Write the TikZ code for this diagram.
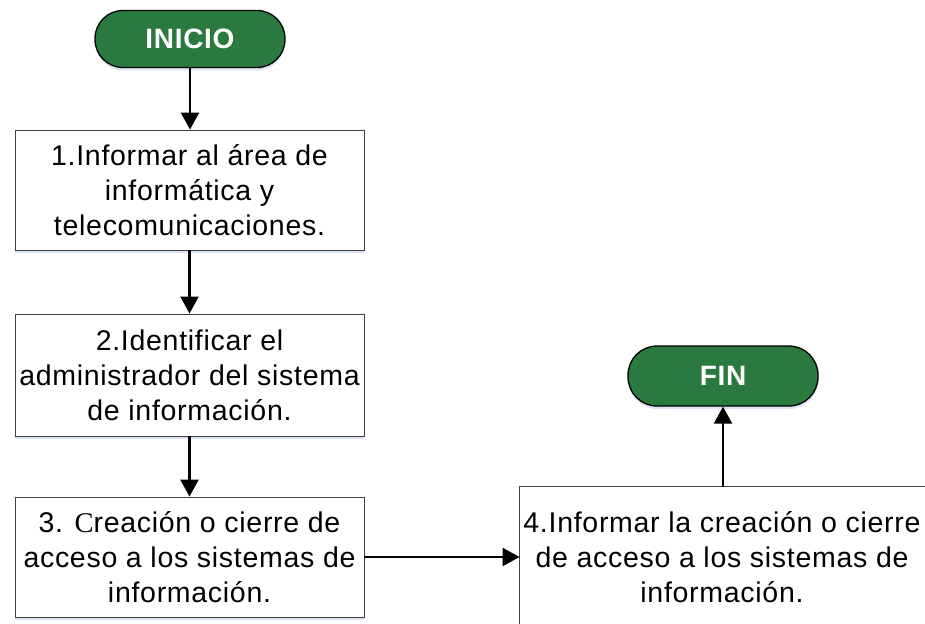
\documentclass[tikz,border=0pt]{standalone}
\usepackage{fontspec}
\setmainfont{Liberation Sans}[LetterSpace=2.5]
\newfontfamily\serifC{Liberation Serif}
\usetikzlibrary{arrows.meta,shadows,calc}
\definecolor{pillgreen}{HTML}{2A7A3F}
\definecolor{boxline}{HTML}{404040}
\definecolor{shadowblue}{RGB}{195,210,235}
\begin{document}
\begin{tikzpicture}[x=1pt,y=-1pt,
  pill/.style={draw=black, line width=1.3pt, fill=pillgreen, rounded corners=28pt,
    minimum width=190pt, minimum height=57pt, inner sep=0pt, text=white,
    font=\fontsize{28}{34}\selectfont\bfseries,
    drop shadow={shadow xshift=0pt, shadow yshift=-3pt, fill=shadowblue, opacity=0.6}},
  stepbox/.style={draw=boxline, line width=0.9pt, fill=white, minimum width=349pt,
    minimum height=120pt, inner sep=0pt, align=center,
    font=\fontsize{28.5}{35}\selectfont},
  boxshadow/.style={drop shadow={shadow xshift=0pt, shadow yshift=-3pt, fill=shadowblue, opacity=0.6}},
  flow/.style={line width=2.2pt, -{Triangle[length=17pt,width=18pt]}}]
\useasboundingbox (0,0) rectangle (925,623);
\node[pill] (inicio) at (190,39) {INICIO};
\node[stepbox, boxshadow] (b1) at (189.5,190) {1.Informar al área de\\informática y\\telecomunicaciones.};
\node[stepbox, boxshadow, minimum height=122pt] (b2) at (189.5,375) {2.Identificar el\\administrador del sistema\\de información.};
\node[stepbox, boxshadow] (b3) at (189.5,557) {3. {\serifC C}reación o cierre de\\acceso a los sistemas de\\información.};
\node[stepbox, draw=none, fill=none, minimum width=404pt, minimum height=140pt] (b4) at (722,557) {4.Informar la creación o cierre\\de acceso a los sistemas de\\información.};
\draw[draw=boxline, line width=0.9pt] (b4.south west) -- (b4.north west) -- ($(b4.north east)+(10,0)$);
\node[pill, minimum height=60pt, rounded corners=29pt] (fin) at (723,376) {FIN};
\draw[flow] (inicio.south) -- (inicio.south |- b1.north);
\draw[flow] (b1.south) -- (b2.north);
\draw[flow] (b2.south) -- (b3.north);
\draw[flow] (b3.east) -- (b3.east -| b4.west);
\draw[flow] (fin.south |- b4.north) -- (fin.south);
\end{tikzpicture}
\end{document}
